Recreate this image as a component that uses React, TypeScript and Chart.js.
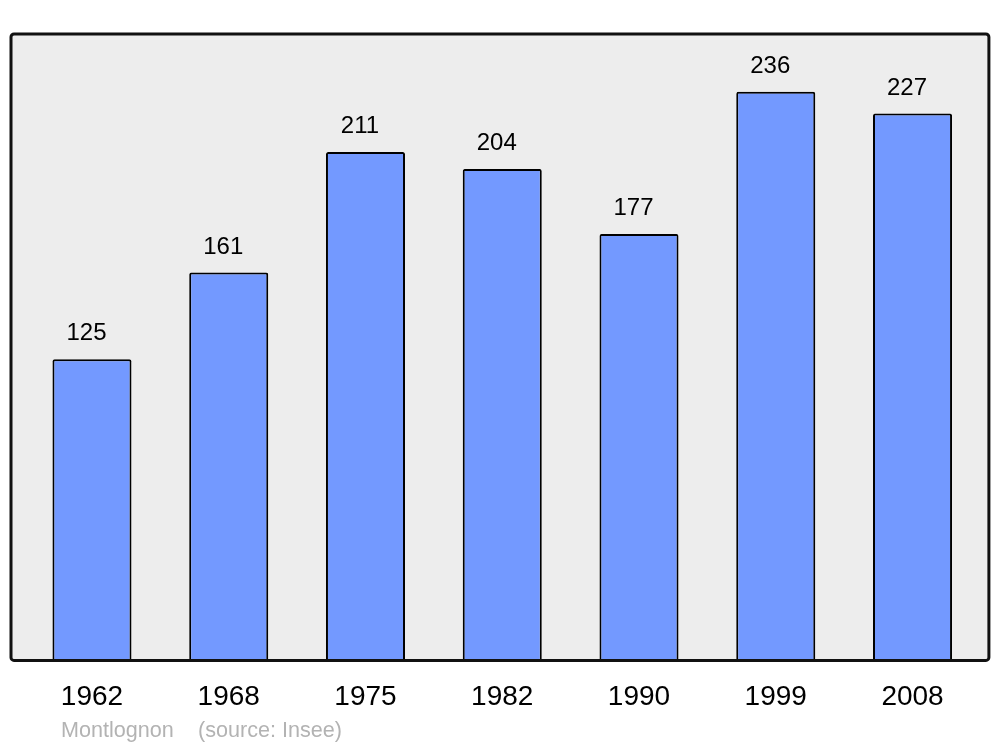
import React, { useEffect, useRef } from "react";
import { Chart, registerables } from "chart.js";

Chart.register(...registerables);

const years = ["1962", "1968", "1975", "1982", "1990", "1999", "2008"];
const population = [125, 161, 211, 204, 177, 236, 227];
const footerName = "Montlognon";
const footerSource = "(source: Insee)";

const framePlugin = {
  id: "frame",
  beforeDatasetsDraw(chart: any) {
    const { ctx, chartArea } = chart;
    const l = chartArea.left - 12.6;
    const r = chartArea.right + 8;
    const t = chartArea.top;
    const b = chartArea.bottom;
    ctx.save();
    ctx.beginPath();
    ctx.roundRect(l, t, r - l, b - t, 3);
    ctx.fillStyle = "#ededed";
    ctx.fill();
    ctx.restore();
  },
  afterDatasetsDraw(chart: any) {
    const { ctx, chartArea } = chart;
    const l = chartArea.left - 12.6;
    const r = chartArea.right + 8;
    const t = chartArea.top;
    const b = chartArea.bottom;
    ctx.save();
    ctx.beginPath();
    ctx.roundRect(l, t, r - l, b - t, 3);
    ctx.lineWidth = 3;
    ctx.strokeStyle = "#111";
    ctx.stroke();
    // value labels
    const meta = chart.getDatasetMeta(0);
    ctx.fillStyle = "#000";
    ctx.font = '24px "Liberation Sans", Arial, sans-serif';
    ctx.textAlign = "center";
    ctx.textBaseline = "alphabetic";
    meta.data.forEach((bar: any, i: number) => {
      ctx.fillText(String(population[i]), bar.x - 5.5, bar.y - 19);
    });
    // footer
    ctx.fillStyle = "#b3b3b3";
    ctx.font = '21.6px "Liberation Sans", Arial, sans-serif';
    ctx.textAlign = "left";
    ctx.fillText(footerName, 61, 737);
    ctx.fillText(footerSource, 198, 737);
    ctx.restore();
  },
};

export default function App() {
  const ref = useRef<HTMLCanvasElement | null>(null);
  useEffect(() => {
    document.body.style.margin = "0";
    const chart = new Chart(ref.current!, {
      type: "bar",
      data: {
        labels: years,
        datasets: [
          {
            data: population,
            backgroundColor: "#7399ff",
            borderColor: "#000",
            borderWidth: 2,
            borderRadius: 2,
            borderSkipped: "bottom",
            barPercentage: 0.578,
            categoryPercentage: 1,
          },
        ],
      },
      options: {
        responsive: false,
        animation: false,
        layout: { padding: { left: 23.6, right: 19.1, top: 34, bottom: 13 } },
        plugins: { legend: { display: false }, tooltip: { enabled: false } },
        scales: {
          x: {
            grid: { display: false, drawTicks: false },
            border: { display: false },
            ticks: {
              color: "#000",
              padding: 20,
              font: { family: '"Liberation Sans", Arial, sans-serif', size: 28 },
            },
          },
          y: {
            display: false,
            min: 0,
            max: 260,
          },
        },
      },
      plugins: [framePlugin],
    });
    return () => chart.destroy();
  }, []);
  return (
    <div style={{ position: "absolute", left: 0, top: 0, width: 1000, height: 747, background: "#fff" }}>
      <canvas ref={ref} width={1000} height={747} />
    </div>
  );
}
